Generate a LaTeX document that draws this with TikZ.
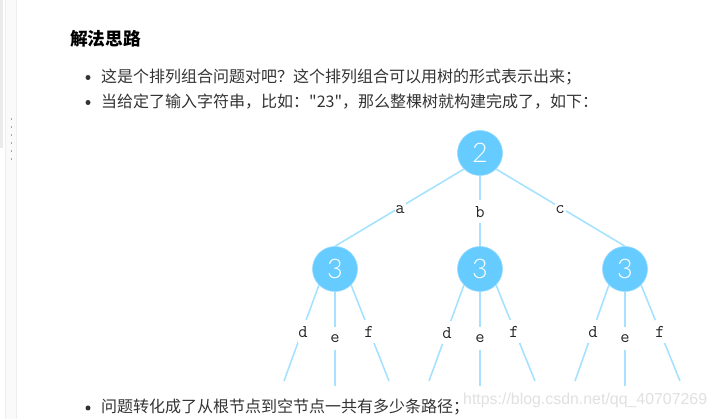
\documentclass[tikz,border=0pt]{standalone}
\usepackage{fontspec}
\setmainfont{Liberation Sans}
\newfontfamily\cjk{Noto Sans CJK SC}
\newfontfamily\digits{Lato Light}
\definecolor{nodeblue}{HTML}{66CCFF}
\definecolor{edgeblue}{HTML}{A6E2FF}
\definecolor{bodygray}{HTML}{333333}
\definecolor{marksgray}{HTML}{E0E0E0}
\definecolor{gutterline}{HTML}{EEEEEE}
\definecolor{gutterfill}{HTML}{FAFAFA}
\begin{document}
\begin{tikzpicture}[x=1pt,y=-1pt,
    tree/.style={circle,fill=nodeblue,draw=nodeblue!70!white,line width=.6pt,minimum size=45pt,inner sep=0pt,text=white,font=\digits\fontsize{27}{27}\selectfont},
    branch/.style={edgeblue,line width=1.6pt},
    letter/.style={fill=white,inner sep=0pt,minimum width=11pt,minimum height=23pt,text=black!85,font=\ttfamily\fontsize{18}{18}\selectfont},
    line/.style={anchor=west,inner sep=0pt,text=bodygray,font=\cjk\fontsize{16}{16}\selectfont},
    dot/.style={circle,fill=bodygray,minimum size=5pt,inner sep=0pt}]
    \useasboundingbox (0,0) rectangle (716,419);

    \fill[black!8] (0,0) rectangle (3,148);
    \filldraw[draw=gutterline,fill=gutterfill,line width=.8pt] (5.5,-1) rectangle (16.5,420);
    \fill[black!35] (10.5,118.5) rectangle (12,120);
    \fill[black!35] (10.5,126.5) rectangle (12,128);
    \fill[black!35] (10.5,134.5) rectangle (12,136);
    \fill[black!35] (10.5,142.5) rectangle (12,144);
    \fill[black!35] (10.5,150.5) rectangle (12,152);
    \fill[black!35] (10.5,158.5) rectangle (12,160);

    \node[anchor=west,inner sep=0pt,text=black,font=\cjk\bfseries\fontsize{17.7}{18}\selectfont] (title) at (70,39) {解法思路};
    \node[dot] (dota) at (88,77.5) {};
    \node[line] (linea) at (101,77) {这是个排列组合问题对吧？这个排列组合可以用树的形式表示出来；};
    \node[dot] (dotb) at (88,102.5) {};
    \node[line] (lineb) at (101,102) {当给定了输入字符串，比如："23"，那么整棵树就构建完成了，如下：};
    \node[dot] (dotc) at (88,408) {};
    \node[line] (linec) at (101,407) {问题转化成了从根节点到空节点一共有多少条路径；};

    \coordinate (enda) at (284,381);
    \coordinate (endb) at (335,386);
    \coordinate (endc) at (389,381);
    \coordinate (endd) at (429,381);
    \coordinate (ende) at (480,386);
    \coordinate (endf) at (535,381);
    \coordinate (endg) at (575,381);
    \coordinate (endh) at (625,386);
    \coordinate (endi) at (680,381);

    \node[tree] (root) at (480,153) {2};
    \node[tree] (left) at (335,269) {3};
    \node[tree] (mid) at (480,269) {3};
    \node[tree] (right) at (625,269) {3};

    \draw[branch] (root.south west) -- (left.north);
    \draw[branch] (root.south) -- (mid.north);
    \draw[branch] (root.south east) -- (right.north);
    \draw[branch] (left.south west) -- (enda);
    \draw[branch] (left.south) -- (endb);
    \draw[branch] (left.south east) -- (endc);
    \draw[branch] (mid.south west) -- (endd);
    \draw[branch] (mid.south) -- (ende);
    \draw[branch] (mid.south east) -- (endf);
    \draw[branch] (right.south west) -- (endg);
    \draw[branch] (right.south) -- (endh);
    \draw[branch] (right.south east) -- (endi);

    \node[letter] (la) at (400,210) {a};
    \node[letter] (lb) at (480,212) {b};
    \node[letter] (lc) at (560,210) {c};
    \node[letter] (ld) at (303,332) {d};
    \node[letter] (le) at (335,339) {e};
    \node[letter] (lf) at (369,332) {f};
    \node[letter] (lg) at (447,333) {d};
    \node[letter] (lh) at (480,339) {e};
    \node[letter] (li) at (514,332) {f};
    \node[letter] (lj) at (593,332) {d};
    \node[letter] (lk) at (625,339) {e};
    \node[letter] (ll) at (660,332) {f};

    \node[anchor=west,inner sep=0pt,text=marksgray,font=\fontsize{15.9}{17}\selectfont] (mark) at (463,400) {https://blog.csdn.net/qq\_40707269};

  \end{tikzpicture}
\end{document}
